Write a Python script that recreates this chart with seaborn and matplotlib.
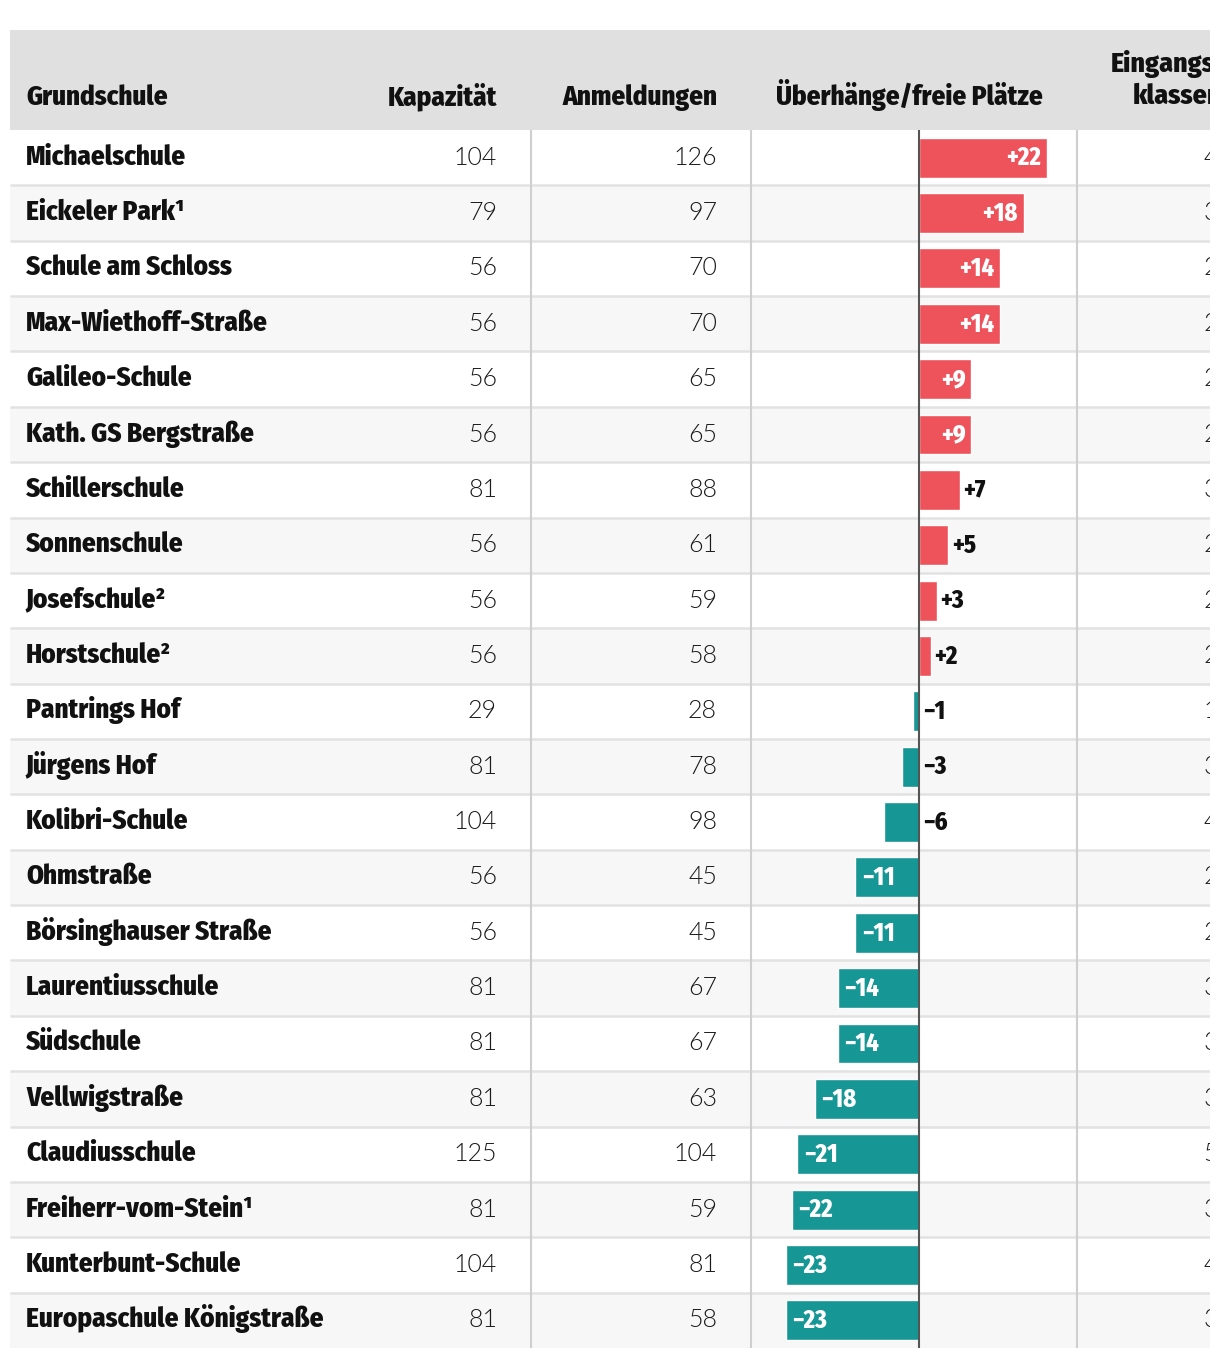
import matplotlib
matplotlib.use("Agg")
import matplotlib.pyplot as plt
import seaborn as sns
from matplotlib.patches import Rectangle

schools = ["Michaelschule", "Eickeler Park¹", "Schule am Schloss", "Max-Wiethoff-Straße",
           "Galileo-Schule", "Kath. GS Bergstraße", "Schillerschule", "Sonnenschule",
           "Josefschule²", "Horstschule²", "Pantrings Hof", "Jürgens Hof", "Kolibri-Schule",
           "Ohmstraße", "Börsinghauser Straße", "Laurentiusschule", "Südschule",
           "Vellwigstraße", "Claudiusschule", "Freiherr-vom-Stein¹", "Kunterbunt-Schule",
           "Europaschule Königstraße"]
kapazitaet = [104, 79, 56, 56, 56, 56, 81, 56, 56, 56, 29, 81, 104, 56, 56, 81, 81, 81, 125, 81, 104, 81]
anmeldungen = [126, 97, 70, 70, 65, 65, 88, 61, 59, 58, 28, 78, 98, 45, 45, 67, 67, 63, 104, 59, 81, 58]
ueberhang = [22, 18, 14, 14, 9, 9, 7, 5, 3, 2, -1, -3, -6, -11, -11, -14, -14, -18, -21, -22, -23, -23]
klassen = [4, 3, 2, 2, 2, 2, 3, 2, 2, 2, 1, 3, 4, 2, 2, 3, 3, 3, 5, 3, 4, 3]

sns.set_style("white")
bold = dict(family=["Fira Sans Condensed", "DejaVu Sans"], weight=800)
light = dict(family=["Lato", "DejaVu Sans"], weight=300)

W, H = 1220, 1362
fig = plt.figure(figsize=(W / 100, H / 100), dpi=100)


def frac(x0, y0, x1, y1):
    return [x0 / W, 1 - y1 / H, (x1 - x0) / W, (y1 - y0) / H]


# table background in pixel coordinates
ax = fig.add_axes(frac(10, 30, 1210, 1350))
ax.set_xlim(10, 1210)
ax.set_ylim(1350, 30)
ax.axis("off")

top, bottom = 130, 1348
n = len(schools)
rh = (bottom - top) / n

ax.add_patch(Rectangle((10, 30), 1200, top - 30, color="#e0e0e0", lw=0))
for i in range(n):
    y0 = top + i * rh
    if i % 2:
        ax.add_patch(Rectangle((10, y0), 1200, rh, color="#f7f7f7", lw=0))
    if i:
        ax.plot([10, 1210], [y0, y0], color="#e2e2e2", lw=1.8, solid_capstyle="butt")
for x in (531, 751, 1077):
    ax.plot([x, x], [top, bottom], color="#cfcfcf", lw=1.5, solid_capstyle="butt")

ax.text(26, 105, "Grundschule", fontsize=19.5, color="#111111", **bold)
ax.text(497, 105, "Kapazität", fontsize=19.5, ha="right", color="#111111", **bold)
ax.text(717, 105, "Anmeldungen", fontsize=19.5, ha="right", color="#111111", **bold)
ax.text(1043, 105, "Überhänge/freie Plätze", fontsize=19.5, ha="right", color="#111111", **bold)
ax.text(1111, 72, "Eingangs-", fontsize=20, color="#111111", clip_on=True, **bold)
ax.text(1133, 104, "klassen", fontsize=20, color="#111111", clip_on=True, **bold)

for i in range(n):
    yb = top + i * rh + rh / 2 + 7
    ax.text(26, yb, schools[i], fontsize=19.5, color="#111111", **bold)
    ax.text(497, yb, str(kapazitaet[i]), fontsize=18, ha="right", color="#1a1a1a", **light)
    ax.text(717, yb, str(anmeldungen[i]), fontsize=18, ha="right", color="#1a1a1a", **light)
    ax.text(1218, yb, str(klassen[i]), fontsize=18, ha="right", color="#1a1a1a",
            clip_on=True, **light)

# diverging bars
axb = fig.add_axes(frac(751, top, 1077, bottom))
sign = ["plus" if v > 0 else "minus" for v in ueberhang]
sns.barplot(x=ueberhang, y=schools, hue=sign, palette={"plus": "#ee535b", "minus": "#169694"},
            orient="h", width=0.72, dodge=False, saturation=1, legend=False, ax=axb)
axb.set_xlim(-29.0, 27.2)
axb.set_ylim(n - 0.5, -0.5)
axb.axvline(0, color="#555555", lw=1.5, zorder=3)
axb.axis("off")

for i, v in enumerate(ueberhang):
    s = f"+{v}" if v > 0 else f"\u2212{-v}"
    if v >= 8:
        x, ha, c = v - 1.0, "right", "white"
    elif v <= -8:
        x, ha, c = v + 1.1, "left", "white"
    else:
        x, ha, c = max(v, 0) + 0.6, "left", "#111111"
    axb.text(x, i + 0.14, s, ha=ha, va="baseline", color=c, fontsize=17.5, zorder=4, **bold)

fig.savefig("out.png", dpi=100)
